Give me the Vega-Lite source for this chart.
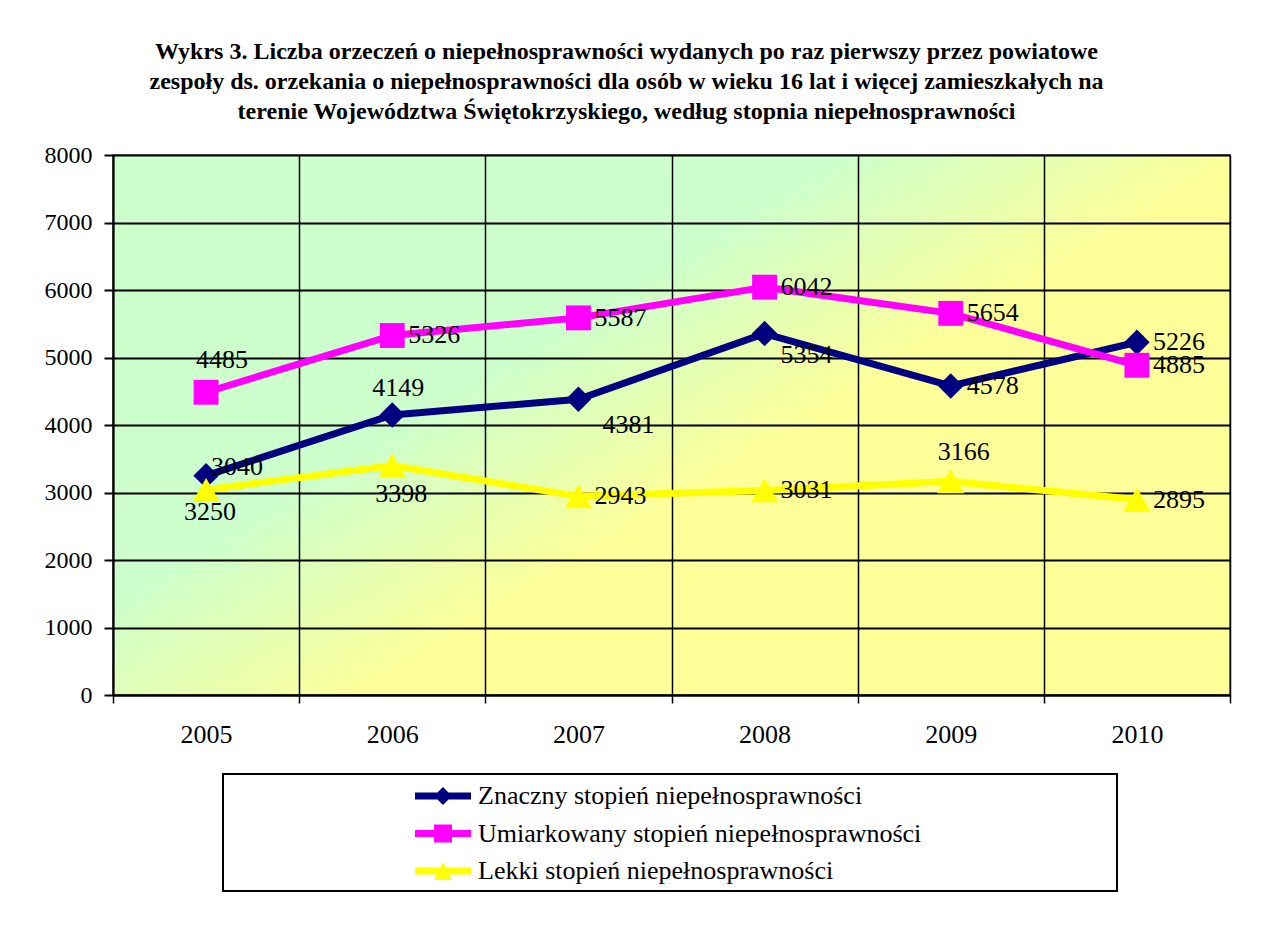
{
  "$schema": "https://vega.github.io/schema/vega-lite/v6.json",
  "width": 1117,
  "height": 540,
  "autosize": "none",
  "padding": {"left": 113, "top": 155, "right": 36, "bottom": 251},
  "background": "white",
  "title": {
    "text": [
      "Wykrs 3. Liczba orzeczeń o niepełnosprawności wydanych po raz pierwszy przez powiatowe",
      "zespoły ds. orzekania o niepełnosprawności  dla osób w wieku 16 lat i więcej zamieszkałych na",
      "terenie Województwa Świętokrzyskiego, według stopnia niepełnosprawności"
    ],
    "font": "Liberation Serif",
    "fontSize": 24,
    "fontWeight": "bold",
    "color": "black",
    "lineHeight": 30,
    "anchor": "middle",
    "dx": -45,
    "offset": 19
  },
  "view": {
    "fill": {
      "gradient": "linear",
      "x1": 0, "y1": 0, "x2": 1, "y2": 0.79,
      "stops": [
        {"offset": 0, "color": "#CCFFCC"},
        {"offset": 0.4, "color": "#CCFFCC"},
        {"offset": 0.63, "color": "#FFFF99"},
        {"offset": 1, "color": "#FFFF99"}
      ]
    },
    "stroke": "#808080",
    "strokeWidth": 2
  },
  "config": {
    "legend": {
      "orient": "none",
      "legendX": 110,
      "legendY": 619,
      "direction": "vertical",
      "padding": 7,
      "fillColor": "white",
      "strokeColor": "black",
      "strokeWidth": 2,
      "symbolOffset": 198,
      "symbolSize": 900,
      "symbolStrokeWidth": 0,
      "labelOffset": 20,
      "labelLimit": 2000,
      "labelFont": "Liberation Serif",
      "labelFontSize": 26,
      "labelColor": "black",
      "rowPadding": 9.5
    }
  },
  "data": {
    "values": [
      {"year": "2005", "series": "Znaczny stopień niepełnosprawności", "value": 3250},
      {"year": "2006", "series": "Znaczny stopień niepełnosprawności", "value": 4149},
      {"year": "2007", "series": "Znaczny stopień niepełnosprawności", "value": 4381},
      {"year": "2008", "series": "Znaczny stopień niepełnosprawności", "value": 5354},
      {"year": "2009", "series": "Znaczny stopień niepełnosprawności", "value": 4578},
      {"year": "2010", "series": "Znaczny stopień niepełnosprawności", "value": 5226},
      {"year": "2005", "series": "Umiarkowany stopień niepełnosprawności", "value": 4485},
      {"year": "2006", "series": "Umiarkowany stopień niepełnosprawności", "value": 5326},
      {"year": "2007", "series": "Umiarkowany stopień niepełnosprawności", "value": 5587},
      {"year": "2008", "series": "Umiarkowany stopień niepełnosprawności", "value": 6042},
      {"year": "2009", "series": "Umiarkowany stopień niepełnosprawności", "value": 5654},
      {"year": "2010", "series": "Umiarkowany stopień niepełnosprawności", "value": 4885},
      {"year": "2005", "series": "Lekki stopień niepełnosprawności", "value": 3040},
      {"year": "2006", "series": "Lekki stopień niepełnosprawności", "value": 3398},
      {"year": "2007", "series": "Lekki stopień niepełnosprawności", "value": 2943},
      {"year": "2008", "series": "Lekki stopień niepełnosprawności", "value": 3031},
      {"year": "2009", "series": "Lekki stopień niepełnosprawności", "value": 3166},
      {"year": "2010", "series": "Lekki stopień niepełnosprawności", "value": 2895}
    ]
  },
  "encoding": {
    "x": {
      "field": "year",
      "type": "ordinal",
      "scale": {"type": "band", "paddingInner": 0, "paddingOuter": 0},
      "axis": {
        "title": null,
        "labelAngle": 0,
        "tickBand": "extent",
        "grid": true,
        "gridColor": "black",
        "gridWidth": 1.5,
        "gridOpacity": 1,
        "domainColor": "black",
        "domainWidth": 2,
        "tickColor": "black",
        "tickSize": 8,
        "tickWidth": 1.5,
        "labelFont": "Liberation Serif",
        "labelFontSize": 26,
        "labelColor": "black",
        "labelPadding": 18
      }
    },
    "y": {
      "field": "value",
      "type": "quantitative",
      "scale": {"domain": [0, 8000], "nice": false},
      "axis": {
        "title": null,
        "values": [0, 1000, 2000, 3000, 4000, 5000, 6000, 7000, 8000],
        "format": "d",
        "grid": true,
        "gridColor": "black",
        "gridWidth": 2,
        "gridOpacity": 1,
        "domainColor": "black",
        "domainWidth": 2,
        "tickColor": "black",
        "tickSize": 9,
        "tickWidth": 2,
        "labelFont": "Liberation Serif",
        "labelFontSize": 24,
        "labelColor": "black",
        "labelPadding": 12
      }
    },
    "color": {
      "field": "series",
      "type": "nominal",
      "scale": {
        "domain": ["Znaczny stopień niepełnosprawności", "Umiarkowany stopień niepełnosprawności", "Lekki stopień niepełnosprawności"],
        "range": ["#000080", "#FF00FF", "#FFFF00"]
      },
      "legend": {
        "title": null,
        "labelExpr": "datum.label + '\u00a0\u00a0\u00a0\u00a0\u00a0\u00a0\u00a0\u00a0\u00a0\u00a0\u00a0\u00a0\u00a0\u00a0\u00a0\u00a0\u00a0\u00a0\u00a0\u00a0\u00a0\u00a0\u00a0\u00a0\u00a0\u00a0\u00a0\u00a0\u00a0\u200b'",
        "encoding": {
          "symbols": {
            "shape": {"value": {"expr": "test(/^Znaczny/, datum.value) ? 'M-1.867,-0.233H-0.367L0,-0.6L0.367,-0.233H1.867V0.233H0.367L0,0.6L-0.367,0.233H-1.867Z' : test(/^Umiark/, datum.value) ? 'M-1.867,-0.233H-0.6V-0.6H0.6V-0.233H1.867V0.233H0.6V0.6H-0.6V0.233H-1.867Z' : 'M-1.867,-0.233H-0.1835L0,-0.6L0.1835,-0.233H1.867V0.233H0.4165L0.6,0.6H-0.6L-0.4165,0.233H-1.867Z'"}},
            "strokeWidth": {"value": 0},
            "opacity": {"value": 1},
            "fillOpacity": {"value": 1}
          }
        }
      }
    }
  },
  "layer": [
    {
      "mark": {"type": "line", "strokeWidth": 7}
    },
    {
      "transform": [{"filter": "test(/^Znaczny/, datum.series)"}],
      "mark": {"type": "point", "shape": "diamond", "filled": true, "opacity": 1, "size": 650, "strokeWidth": 0}
    },
    {
      "transform": [{"filter": "test(/^Umiark/, datum.series)"}],
      "mark": {"type": "point", "shape": "square", "filled": true, "opacity": 1, "size": 620, "strokeWidth": 0}
    },
    {
      "transform": [{"filter": "test(/^Lekki/, datum.series)"}],
      "mark": {"type": "point", "shape": "triangle-up", "filled": true, "opacity": 1, "size": 750, "strokeWidth": 0}
    },
    {
      "transform": [{"filter": "!((test(/^Znaczny/, datum.series) && (datum.year == '2005' || datum.year == '2006' || datum.year == '2007' || datum.year == '2008')) || (test(/^Umiark/, datum.series) && datum.year == '2005') || (test(/^Lekki/, datum.series) && (datum.year == '2005' || datum.year == '2006' || datum.year == '2009')))"}],
      "mark": {"type": "text", "align": "left", "baseline": "middle", "dx": 16, "dy": 0, "font": "Liberation Serif", "fontSize": 26, "color": "black"},
      "encoding": {"text": {"field": "value", "type": "quantitative", "format": "d"}, "color": {"value": "black"}}
    },
    {
      "transform": [{"filter": "test(/^Znaczny/, datum.series) && datum.year == '2005'"}],
      "mark": {"type": "text", "align": "center", "baseline": "middle", "dx": 4, "dy": 36, "font": "Liberation Serif", "fontSize": 26, "color": "black"},
      "encoding": {"text": {"field": "value", "type": "quantitative", "format": "d"}, "color": {"value": "black"}}
    },
    {
      "transform": [{"filter": "test(/^Lekki/, datum.series) && datum.year == '2005'"}],
      "mark": {"type": "text", "align": "left", "baseline": "middle", "dx": 5, "dy": -23, "font": "Liberation Serif", "fontSize": 26, "color": "black"},
      "encoding": {"text": {"field": "value", "type": "quantitative", "format": "d"}, "color": {"value": "black"}}
    },
    {
      "transform": [{"filter": "test(/^Znaczny/, datum.series) && datum.year == '2006'"}],
      "mark": {"type": "text", "align": "center", "baseline": "middle", "dx": 6, "dy": -27, "font": "Liberation Serif", "fontSize": 26, "color": "black"},
      "encoding": {"text": {"field": "value", "type": "quantitative", "format": "d"}, "color": {"value": "black"}}
    },
    {
      "transform": [{"filter": "test(/^Znaczny/, datum.series) && datum.year == '2007'"}],
      "mark": {"type": "text", "align": "left", "baseline": "middle", "dx": 24, "dy": 26, "font": "Liberation Serif", "fontSize": 26, "color": "black"},
      "encoding": {"text": {"field": "value", "type": "quantitative", "format": "d"}, "color": {"value": "black"}}
    },
    {
      "transform": [{"filter": "test(/^Znaczny/, datum.series) && datum.year == '2008'"}],
      "mark": {"type": "text", "align": "left", "baseline": "middle", "dx": 16, "dy": 21, "font": "Liberation Serif", "fontSize": 26, "color": "black"},
      "encoding": {"text": {"field": "value", "type": "quantitative", "format": "d"}, "color": {"value": "black"}}
    },
    {
      "transform": [{"filter": "test(/^Umiark/, datum.series) && datum.year == '2005'"}],
      "mark": {"type": "text", "align": "center", "baseline": "middle", "dx": 16, "dy": -32, "font": "Liberation Serif", "fontSize": 26, "color": "black"},
      "encoding": {"text": {"field": "value", "type": "quantitative", "format": "d"}, "color": {"value": "black"}}
    },
    {
      "transform": [{"filter": "test(/^Lekki/, datum.series) && datum.year == '2006'"}],
      "mark": {"type": "text", "align": "center", "baseline": "middle", "dx": 9, "dy": 28, "font": "Liberation Serif", "fontSize": 26, "color": "black"},
      "encoding": {"text": {"field": "value", "type": "quantitative", "format": "d"}, "color": {"value": "black"}}
    },
    {
      "transform": [{"filter": "test(/^Lekki/, datum.series) && datum.year == '2009'"}],
      "mark": {"type": "text", "align": "center", "baseline": "middle", "dx": 13, "dy": -29, "font": "Liberation Serif", "fontSize": 26, "color": "black"},
      "encoding": {"text": {"field": "value", "type": "quantitative", "format": "d"}, "color": {"value": "black"}}
    }
  ]
}
